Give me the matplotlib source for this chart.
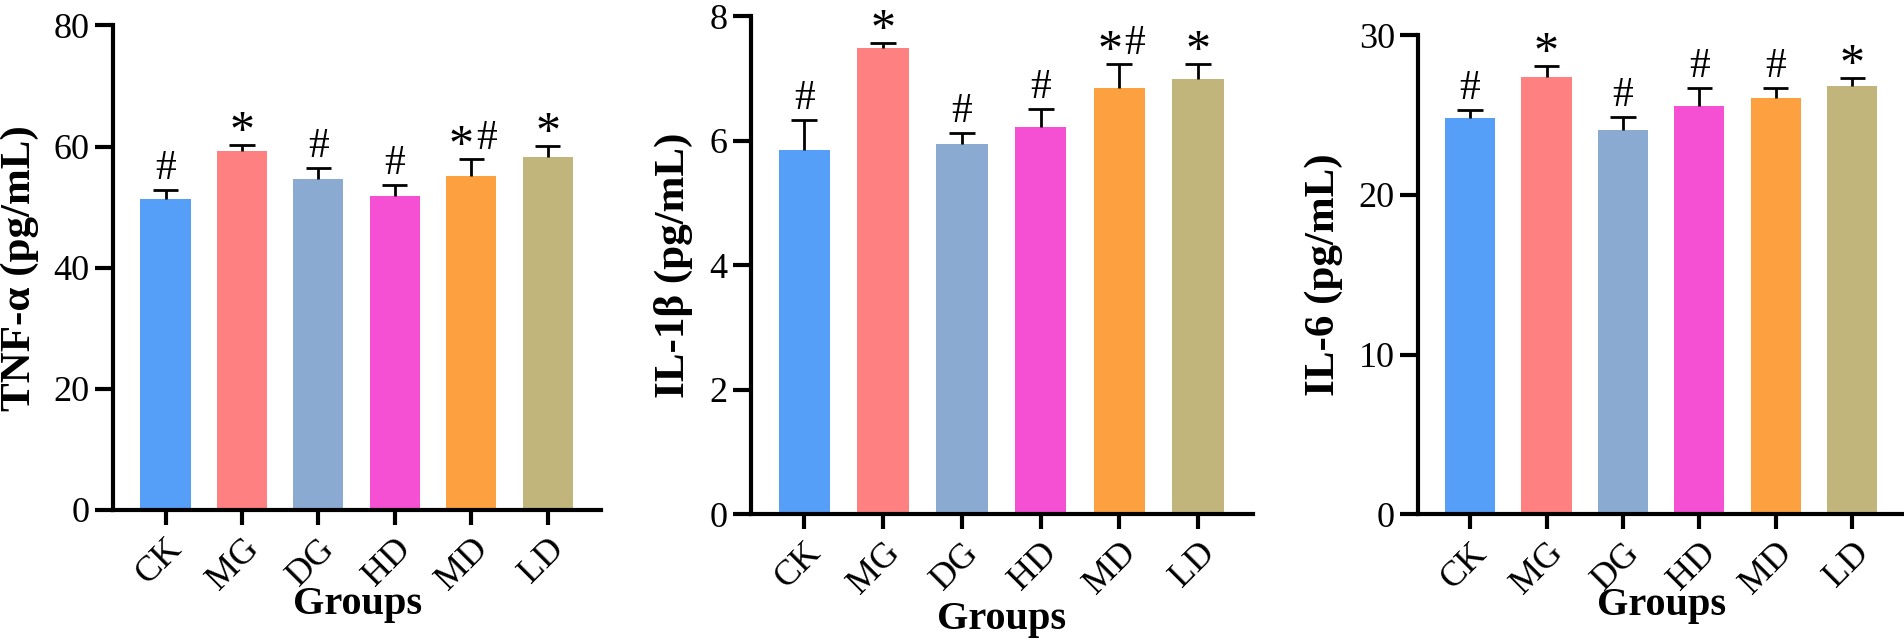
import matplotlib
matplotlib.use("Agg")
import matplotlib.pyplot as plt
import matplotlib.transforms as mtransforms
import numpy as np

plt.rcParams['font.family'] = ['Liberation Serif', 'DejaVu Serif']

groups = ["CK", "MG", "DG", "HD", "MD", "LD"]
colors = ["#559FF9", "#FE8081", "#8AAAD1", "#F54FD4", "#FDA040", "#C1B57C"]

tnf_mean = [51.4, 59.2, 54.6, 51.9, 55.1, 58.3]
tnf_err = [1.4, 1.1, 1.9, 1.7, 2.9, 1.8]
tnf_sig = ["#", "*", "#", "#", "*#", "*"]

il1b_mean = [5.85, 7.49, 5.95, 6.23, 6.85, 7.00]
il1b_err = [0.49, 0.09, 0.17, 0.28, 0.39, 0.23]
il1b_sig = ["#", "*", "#", "#", "*#", "*"]

il6_mean = [24.8, 27.4, 24.1, 25.6, 26.05, 26.8]
il6_err = [0.5, 0.7, 0.8, 1.1, 0.65, 0.5]
il6_sig = ["#", "*", "#", "#", "#", "*"]

ylabels = ["TNF-α (pg/mL)", "IL-1β (pg/mL)", "IL-6 (pg/mL)"]
yticks_list = [[0, 20, 40, 60, 80], [0, 2, 4, 6, 8], [0, 10, 20, 30]]

fig = plt.figure(figsize=(19.04, 6.41), dpi=100)

panels = [
    dict(rect=[0.0594, 0.2044, 0.2563, 0.7560], mean=tnf_mean, err=tnf_err, sig=tnf_sig,
         ylim=(0, 80), xlim=(-0.686, 5.70), ylab_x=-0.152, xlab_y=-0.156),
    dict(rect=[0.3943, 0.1981, 0.2638, 0.7763], mean=il1b_mean, err=il1b_err, sig=il1b_sig,
         ylim=(0, 8), xlim=(-0.68, 5.695), ylab_x=-0.115, xlab_y=-0.175),
    dict(rect=[0.7450, 0.1978, 0.2550, 0.7470], mean=il6_mean, err=il6_err, sig=il6_sig,
         ylim=(0, 30), xlim=(-0.675, 5.676), ylab_x=-0.155, xlab_y=-0.151),
]

offset = mtransforms.ScaledTranslation(-6 / 100, 0, fig.dpi_scale_trans)

for i, p in enumerate(panels):
    ax = fig.add_axes(p["rect"])
    x = np.arange(len(groups))
    mean = np.array(p["mean"])
    err = np.array(p["err"])
    ax.bar(x, mean, width=0.655, color=colors, edgecolor='none', zorder=2)
    ax.vlines(x, mean, mean + err, color='black', lw=2.0, zorder=3)
    ax.hlines(mean + err, x - 0.165, x + 0.165, color='black', lw=2.0, zorder=3)
    for xi, top, s in zip(x, mean + err, p["sig"]):
        if s == "*#":
            ax.annotate("*", (xi, top), xytext=(-7, 0), textcoords='offset points',
                        ha='center', va='baseline', fontsize=36)
            ax.annotate("#", (xi, top), xytext=(11, 7), textcoords='offset points',
                        ha='center', va='baseline', fontsize=30)
        elif s == "*":
            ax.annotate("*", (xi, top), xytext=(0, 0), textcoords='offset points',
                        ha='center', va='baseline', fontsize=36)
        else:
            ax.annotate("#", (xi, top), xytext=(0, 8), textcoords='offset points',
                        ha='center', va='baseline', fontsize=30)
    ax.set_xlim(*p["xlim"])
    ax.set_ylim(*p["ylim"])
    ax.set_yticks(yticks_list[i])
    ax.set_xticks(x)
    ax.set_xticklabels(groups, rotation=45, ha='right', va='top', rotation_mode='anchor')
    for lab in ax.get_xticklabels():
        lab.set_transform(lab.get_transform() + offset)
    for sp in ["top", "right"]:
        ax.spines[sp].set_visible(False)
    for sp in ["left", "bottom"]:
        ax.spines[sp].set_linewidth(3)
    ax.tick_params(axis='y', length=13, width=3, labelsize=26, pad=4)
    ax.tick_params(axis='x', length=11, width=3, labelsize=26, pad=5)
    ax.set_ylabel(ylabels[i], fontsize=31, fontweight='bold')
    ax.yaxis.set_label_coords(p["ylab_x"], 0.5)
    ax.set_xlabel("Groups", fontsize=29, fontweight='bold')
    ax.xaxis.set_label_coords(0.5, p["xlab_y"])
    ax.patch.set_visible(False)

fig.savefig("out.png", dpi=100)
